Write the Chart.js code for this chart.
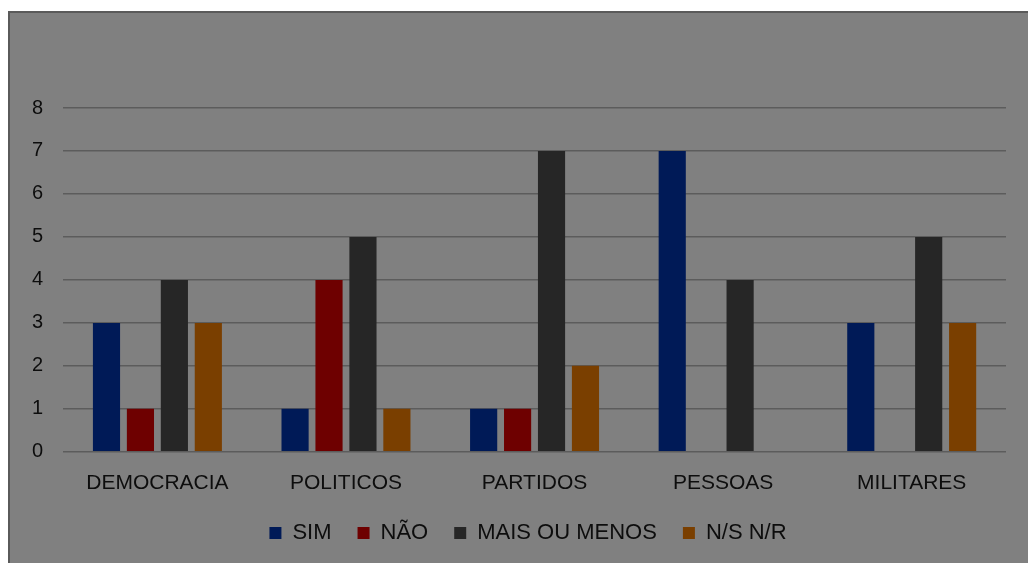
<!DOCTYPE html>
<html>
<head>
<meta charset="utf-8">
<script src="https://cdn.jsdelivr.net/npm/chart.js@4"></script>
<style>
  body { margin: 0; background: #fff; }
  #frame {
    position: absolute; left: 8px; top: 11px; width: 1030px; height: 560px;
    background: #808080; border-top: 2px solid #5a5a5a; border-left: 2px solid #5a5a5a;
  }
  #wrap { position: absolute; left: 0; top: 0; width: 1028px; height: 563px; }
</style>
</head>
<body>
<div id="frame"></div>
<div id="wrap"><canvas id="chart-canvas"></canvas></div>
<script>
var categories = ['DEMOCRACIA', 'POLITICOS', 'PARTIDOS', 'PESSOAS', 'MILITARES']
var sim = [3, 1, 1, 7, 3]
var nao = [1, 4, 1, 0, 0]
var maisOuMenos = [4, 5, 7, 4, 5]
var nsnr = [3, 1, 2, 0, 3]
var yTicks = [0, 1, 2, 3, 4, 5, 6, 7, 8]

var fontFamily = '"Liberation Sans", "DejaVu Sans", sans-serif'
var textColor = '#0d0d0d'

function series(label, data, color) {
  return {
    label: label,
    data: data,
    backgroundColor: color,
    borderColor: color,
    borderWidth: 0,
    categoryPercentage: 0.72,
    barPercentage: 0.8
  }
}

// legend sits a bit right of centre in the original
var legendShift = {
  id: 'legendShift',
  afterLayout: function (chart) {
    chart.legend.left += 19
    chart.legend.right += 19
  }
}

var ctx = document.getElementById('chart-canvas').getContext('2d');
var chart = new Chart(ctx, {
  type: 'bar',
  data: {
    labels: categories,
    datasets: [
      series('SIM', sim, '#001a57'),
      series('NÃO', nao, '#6e0000'),
      series('MAIS OU MENOS', maisOuMenos, '#262626'),
      series('N/S N/R', nsnr, '#7a3f00')
    ]
  },
  plugins: [legendShift],
  options: {
    responsive: true,
    maintainAspectRatio: false,
    animation: false,
    layout: { padding: { left: 12, right: 22, top: 108, bottom: 9 } },
    plugins: {
      tooltip: { enabled: false },
      legend: {
        position: 'bottom',
        labels: {
          color: textColor,
          font: { family: fontFamily, size: 22 },
          boxWidth: 12,
          boxHeight: 12,
          padding: 26
        }
      }
    },
    scales: {
      x: {
        grid: { display: false },
        border: { display: false },
        ticks: { color: textColor, font: { family: fontFamily, size: 21 }, padding: 11 },
        // pull the labels closer to the legend
        afterFit: function (scale) { scale.height -= 11 }
      },
      y: {
        min: 0,
        max: 8,
        afterBuildTicks: function (axis) {
          axis.ticks = yTicks.map(function (v) { return { value: v } })
        },
        grid: { color: '#5c5c5c', lineWidth: 1.5, drawTicks: false },
        border: { display: false },
        ticks: { color: textColor, font: { family: fontFamily, size: 20 }, padding: 20 }
      }
    }
  }
});
</script>
</body>
</html>
